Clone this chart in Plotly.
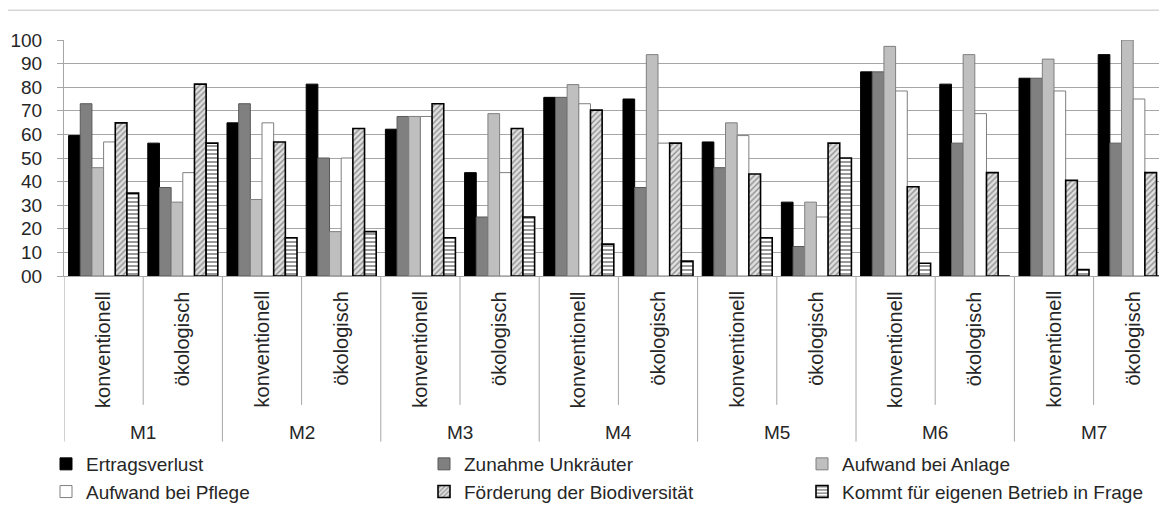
import plotly.graph_objects as go

# Mähvarianten und Bewirtschaftung
groups = ['M1', 'M2', 'M3', 'M4', 'M5', 'M6', 'M7']
systems = ['konventionell', 'ökologisch']

# Anteile in % (je Kategorie: M1 konv, M1 öko, M2 konv, ...)
ertragsverlust = [59.5, 56.3, 64.9, 81.3, 62.2, 43.8, 75.7, 75.0, 56.8, 31.3, 86.5, 81.3, 83.8, 93.8]
unkraeuter = [73.0, 37.5, 73.0, 50.0, 67.6, 25.0, 75.7, 37.5, 45.9, 12.5, 86.5, 56.3, 83.8, 56.3]
anlage = [45.9, 31.3, 32.4, 18.8, 67.6, 68.8, 81.1, 93.8, 64.9, 31.3, 97.3, 93.8, 91.9, 100.0]
pflege = [56.8, 43.8, 64.9, 50.0, 67.6, 43.8, 73.0, 56.3, 59.5, 25.0, 78.4, 68.8, 78.4, 75.0]
biodiversitaet = [64.9, 81.3, 56.8, 62.5, 73.0, 62.5, 70.3, 56.3, 43.2, 56.3, 37.8, 43.8, 40.5, 43.8]
betrieb = [35.1, 56.3, 16.2, 18.8, 16.2, 25.0, 13.5, 6.3, 16.2, 50.0, 5.4, 0.0, 2.7, 0.0]

ytick_vals = [0, 10, 20, 30, 40, 50, 60, 70, 80, 90, 100]
ytick_text = ['00', '10', '20', '30', '40', '50', '60', '70', '80', '90', '100']

categories = [g + ' ' + s for g in groups for s in systems]

# die Seite hat 8px Rand, daher alles um 8px verschieben;
# Figur etwas breiter als das Fenster (Original ist rechts beschnitten)
OFF = 8
W, H = 1190, 511 - OFF
ML, MT = 64 - OFF, 40 - OFF
PLOT_BOTTOM = 278 - OFF
PW = W - ML
PH = PLOT_BOTTOM - MT
CAT_PX = 79.2
GRID = '#a6a6a6'
TXT = '#262626'
FONT = 'Liberation Sans, Arial, sans-serif'


def py(px):
    # Pixel-y (Bildkoordinaten) in Paper-Koordinaten
    return (PLOT_BOTTOM - (px - OFF)) / PH


def px_x(px):
    return (px - OFF - ML) / PW


series = [
    ('Ertragsverlust', ertragsverlust, dict(color='#000000', line=dict(color='#000000', width=1))),
    ('Zunahme Unkräuter', unkraeuter, dict(color='#808080', line=dict(color='#595959', width=1))),
    ('Aufwand bei Anlage', anlage, dict(color='#bfbfbf', line=dict(color='#7f7f7f', width=1))),
    ('Aufwand bei Pflege', pflege, dict(color='#ffffff', line=dict(color='#7f7f7f', width=1))),
    ('Förderung der Biodiversität', biodiversitaet,
     dict(color='#d0d0d0', line=dict(color='#000000', width=1.6),
          pattern=dict(shape='/', fgcolor='#3a3a3a', bgcolor='#e0e0e0', size=4, solidity=0.35))),
    ('Kommt für eigenen Betrieb in Frage', betrieb,
     dict(color='#ffffff', line=dict(color='#000000', width=1.6),
          pattern=dict(shape='-', fgcolor='#000000', bgcolor='#ffffff', size=4, solidity=0.4))),
]

fig = go.Figure()
for name, vals, marker in series:
    fig.add_trace(go.Bar(x=categories, y=vals, name=name, marker=marker))

shapes = []
annotations = []
# Trennlinien unter der Achse
for i in range(len(categories) + 1):
    outer = (i % 2 == 0)
    shapes.append(dict(type='line', xref='x', yref='paper', x0=i - 0.5, x1=i - 0.5,
                       y0=0, y1=py(445 if outer else 408), line=dict(color=GRID, width=1)))
for i, c in enumerate(categories):
    annotations.append(dict(x=i, xref='x', y=py(291), yref='paper', text=c.split(' ')[1],
                            textangle=-90, showarrow=False, xanchor='center', yanchor='top',
                            font=dict(size=20, color=TXT, family=FONT)))
for j, g in enumerate(groups):
    annotations.append(dict(x=2 * j + 0.5, xref='x', y=py(436), yref='paper', text=g,
                            showarrow=False, xanchor='center', yanchor='middle',
                            font=dict(size=19, color=TXT, family=FONT)))
# äußerer Diagrammrahmen
shapes.append(dict(type='rect', xref='paper', yref='paper', x0=px_x(7), x1=1.2,
                   y0=py(540), y1=py(10), line=dict(color='#d6d6d6', width=1.5)))

fig.update_layout(
    width=W, height=H,
    margin=dict(l=ML, r=0, t=MT, b=H - PLOT_BOTTOM, pad=0),
    paper_bgcolor='white', plot_bgcolor='white',
    font=dict(family=FONT, size=19, color=TXT),
    barmode='group', bargap=0.116, bargroupgap=0,
    shapes=shapes, annotations=annotations,
    legend=dict(orientation='h', x=px_x(46), xanchor='left', y=py(449), yanchor='top',
                entrywidth=333, entrywidthmode='pixels', traceorder='normal',
                font=dict(size=19, color=TXT, family=FONT), bgcolor='rgba(0,0,0,0)'),
    xaxis=dict(range=[-0.5, -0.5 + PW / CAT_PX], showticklabels=False, ticks='',
               showline=True, linecolor=GRID, linewidth=1, showgrid=False, zeroline=False),
    yaxis=dict(range=[0, 100], tickvals=ytick_vals, ticktext=ytick_text,
               showline=True, linecolor=GRID, linewidth=1, ticks='outside', ticklen=6,
               tickcolor=GRID, showgrid=True, gridcolor=GRID, gridwidth=1, zeroline=False,
               ticklabelstandoff=11, tickfont=dict(size=19, color=TXT, family=FONT)),
)

fig.write_html("out.html")
